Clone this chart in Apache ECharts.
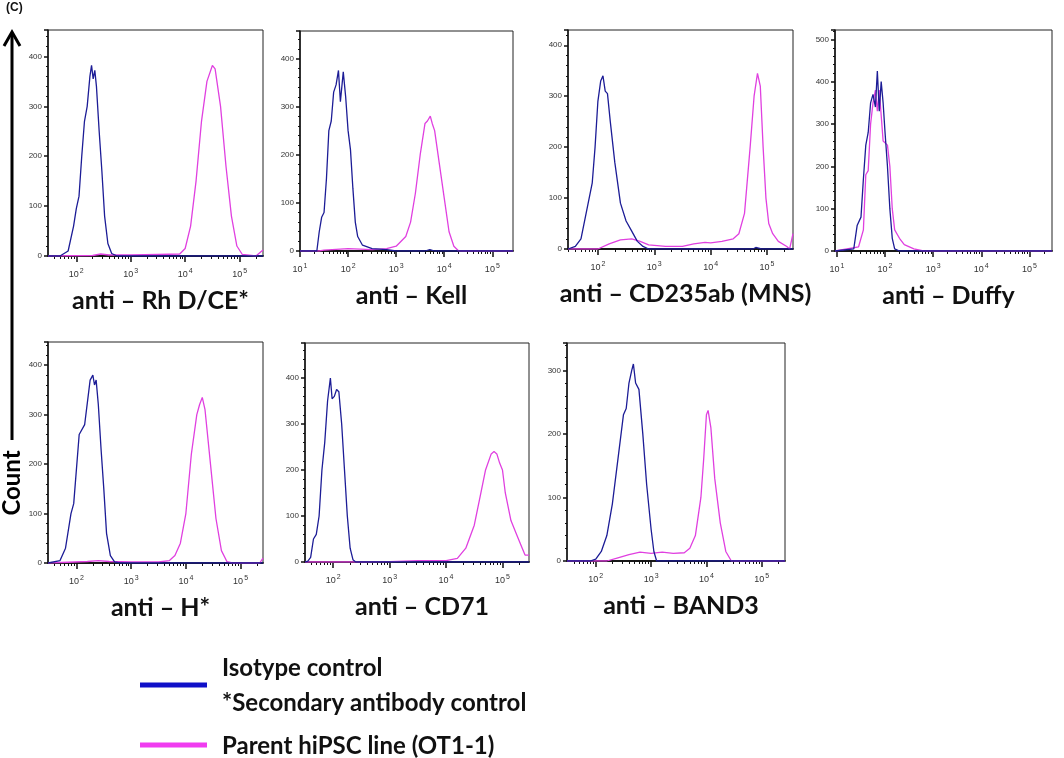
<!DOCTYPE html>
<html>
<head>
<meta charset="UTF-8">
<title>Flow cytometry histograms</title>
<script src="https://cdn.jsdelivr.net/npm/echarts@6/dist/echarts.min.js"></script>
<style>body{margin:0;background:#fff}</style>
</head>
<body>
<div id="main" style="width:1064px;height:758px;"></div>
<script>
// x values are log10 of fluorescence, y is count
var rhBlue = [[1.48,0],[1.7,0],[1.85,10],[1.95,60],[2.0,95],[2.05,120],[2.1,200],[2.15,270],[2.2,300],[2.25,360],[2.28,382],[2.31,355],[2.34,372],[2.37,340],[2.42,250],[2.47,170],[2.52,80],[2.58,25],[2.65,5],[2.75,0],[5.43,0]];
var rhPink = [[1.48,0],[2.3,1],[2.45,4],[2.6,2],[3.0,2],[3.5,3],[3.9,4],[4.0,15],[4.1,60],[4.2,150],[4.3,270],[4.4,350],[4.5,382],[4.55,375],[4.65,300],[4.75,180],[4.85,80],[4.95,20],[5.05,3],[5.3,0],[5.43,12]];
var kellBlue = [[1.0,0],[1.35,0],[1.4,40],[1.45,70],[1.5,80],[1.55,150],[1.6,250],[1.65,270],[1.7,330],[1.75,345],[1.8,375],[1.84,310],[1.9,372],[1.95,320],[2.0,250],[2.05,210],[2.1,130],[2.15,60],[2.2,30],[2.3,12],[2.5,5],[2.8,3],[3.0,0],[3.6,0],[3.7,3],[3.8,0],[5.43,0]];
var kellPink = [[1.0,0],[1.4,0],[1.5,2],[2.0,5],[2.5,3],[2.8,5],[3.0,10],[3.2,30],[3.3,60],[3.4,120],[3.5,200],[3.6,265],[3.65,270],[3.71,280],[3.75,265],[3.8,250],[3.9,180],[4.0,110],[4.1,40],[4.2,10],[4.3,0],[5.43,0]];
var cdBlue = [[1.47,0],[1.6,5],[1.7,20],[1.8,75],[1.9,130],[1.95,200],[2.0,290],[2.05,330],[2.09,340],[2.13,310],[2.17,305],[2.22,250],[2.3,170],[2.4,90],[2.5,55],[2.6,35],[2.7,15],[2.8,5],[2.9,0],[4.75,0],[4.8,3],[4.9,0],[5.46,0]];
var cdPink = [[1.47,0],[2.0,0],[2.2,10],[2.4,18],[2.6,20],[2.75,15],[2.9,8],[3.2,5],[3.5,5],[3.7,10],[3.9,13],[4.0,12],[4.2,15],[4.4,20],[4.5,30],[4.6,70],[4.7,200],[4.77,300],[4.83,345],[4.88,320],[4.93,200],[4.98,100],[5.03,50],[5.1,30],[5.2,15],[5.35,5],[5.4,0],[5.46,30]];
var duffyBlue = [[0.96,0],[1.35,5],[1.42,60],[1.5,80],[1.55,170],[1.6,250],[1.65,280],[1.7,350],[1.75,370],[1.8,340],[1.84,425],[1.88,330],[1.92,400],[1.96,350],[2.0,280],[2.05,200],[2.1,100],[2.15,30],[2.2,5],[2.3,0],[5.47,0]];
var duffyPink = [[0.96,0],[1.45,10],[1.55,50],[1.6,180],[1.65,190],[1.7,300],[1.75,350],[1.8,380],[1.84,330],[1.88,380],[1.92,320],[1.96,260],[2.0,260],[2.05,250],[2.1,200],[2.15,100],[2.2,50],[2.3,30],[2.4,15],[2.6,5],[2.8,0],[5.47,0]];
var hBlue = [[1.48,0],[1.7,5],[1.8,30],[1.9,100],[1.95,120],[2.05,260],[2.15,280],[2.25,370],[2.3,380],[2.33,360],[2.36,370],[2.4,320],[2.45,230],[2.5,150],[2.55,60],[2.62,15],[2.7,2],[2.8,0],[5.41,0]];
var hPink = [[1.48,0],[2.2,3],[2.4,5],[2.6,3],[3.0,2],[3.5,2],[3.7,5],[3.8,15],[3.9,40],[4.0,100],[4.1,220],[4.2,300],[4.25,320],[4.3,335],[4.35,310],[4.45,200],[4.55,90],[4.65,25],[4.75,3],[4.85,0],[5.35,0],[5.41,10]];
var cd71Blue = [[1.5,0],[1.55,2],[1.6,10],[1.65,50],[1.7,60],[1.75,100],[1.8,200],[1.85,260],[1.9,350],[1.95,400],[1.98,355],[2.02,360],[2.06,375],[2.1,370],[2.15,300],[2.2,200],[2.25,100],[2.3,30],[2.35,5],[2.4,0],[5.47,0]];
var cd71Pink = [[1.5,0],[2.5,0],[3.0,1],[3.5,3],[3.8,3],[4.0,3],[4.2,8],[4.35,30],[4.5,80],[4.6,140],[4.7,200],[4.8,235],[4.85,240],[4.9,235],[4.95,215],[5.0,200],[5.05,150],[5.15,90],[5.25,60],[5.35,30],[5.4,15],[5.47,15]];
var band3Blue = [[1.48,0],[1.9,0],[2.0,3],[2.1,15],[2.2,40],[2.3,90],[2.4,160],[2.5,230],[2.55,240],[2.6,280],[2.65,300],[2.68,310],[2.72,280],[2.78,270],[2.85,200],[2.92,120],[3.0,50],[3.05,15],[3.1,0],[5.42,0]];
var band3Pink = [[1.48,0],[2.2,0],[2.4,5],[2.6,10],[2.8,14],[3.0,12],[3.2,14],[3.4,12],[3.6,13],[3.7,20],[3.8,40],[3.9,100],[3.95,160],[4.0,230],[4.03,237],[4.08,210],[4.15,130],[4.25,60],[4.35,15],[4.45,0],[5.42,0]];

var titles = ['anti \u2013 Rh D/CE*', 'anti \u2013 Kell', 'anti \u2013 CD235ab (MNS)', 'anti \u2013 Duffy', 'anti \u2013 H*', 'anti \u2013 CD71', 'anti \u2013 BAND3'];
var xMin = [1.48, 1.0, 1.47, 0.96, 1.48, 1.5, 1.48];
var xMax = [5.43, 5.43, 5.46, 5.47, 5.41, 5.47, 5.42];
var yMax = [453, 457, 430, 522, 447, 476, 343];
var blues = [rhBlue, kellBlue, cdBlue, duffyBlue, hBlue, cd71Blue, band3Blue];
var pinks = [rhPink, kellPink, cdPink, duffyPink, hPink, cd71Pink, band3Pink];
var decadeLabels = [[2,3,4,5],[1,2,3,4,5],[2,3,4,5],[1,2,3,4,5],[2,3,4,5],[2,3,4,5],[2,3,4,5]];

// panel boxes [left, top, width, height]
var boxes = [[48,30,215,226],[300,31,213,220],[568,30,225,219],[835,30,217,221],
             [48,342,215,221],[305,343,224,219],[567,343,218,218]];

var minorTicks = [];
for (var d = 0; d <= 5; d++) {
    for (var k = 2; k <= 9; k++) minorTicks.push(d + Math.log10(k));
}

var grids = [], xAxes = [], yAxes = [], series = [], titleList = [];
boxes.forEach(function (b, i) {
    var minors = minorTicks.filter(function (t) { return t > xMin[i] && t < xMax[i]; });
    grids.push({left: b[0], top: b[1], width: b[2], height: b[3], show: true,
                borderColor: '#222', borderWidth: 1, backgroundColor: '#fff'});
    xAxes.push({
        type: 'value', gridIndex: i, min: xMin[i], max: xMax[i], position: 'bottom', offset: 0,
        splitLine: {show: false},
        axisLine: {lineStyle: {color: '#111', width: 1.5}},
        axisTick: {customValues: decadeLabels[i], length: 6, lineStyle: {color: '#111', width: 1.5}},
        axisLabel: {
            customValues: decadeLabels[i], margin: 12,
            formatter: function (v) { return '{b|10}{s|' + Math.round(v) + '}'; },
            rich: {b: {fontSize: 9, color: '#333', fontFamily: 'Arial'},
                   s: {fontSize: 7, color: '#333', verticalAlign: 'top', padding: [0,0,6,1], fontFamily: 'Arial'}}
        }
    });
    xAxes.push({
        type: 'value', gridIndex: i, min: xMin[i], max: xMax[i], position: 'bottom', offset: 0,
        splitLine: {show: false},
        axisLine: {show: true, lineStyle: {color: '#111', width: 1.5}},
        axisLabel: {show: true, customValues: minors, formatter: function () { return ''; }},
        axisTick: {show: true, customValues: minors, length: 3, lineStyle: {color: '#111'}}
    });
    yAxes.push({
        type: 'value', gridIndex: i, min: 0, max: yMax[i], interval: 100,
        splitLine: {show: false},
        axisLine: {show: true, lineStyle: {color: '#111', width: 1.5}},
        axisTick: {show: true, length: 4, lineStyle: {color: '#111', width: 1.5}},
        minorTick: {show: true, splitNumber: 5, length: 2, lineStyle: {color: '#111'}},
        axisLabel: {fontSize: 8, color: '#333', fontFamily: 'Arial', showMaxLabel: false, margin: 6}
    });
    series.push({type: 'line', xAxisIndex: 2 * i, yAxisIndex: i, data: pinks[i], showSymbol: false,
                 lineStyle: {color: '#e040e0', width: 1.3}, z: 2});
    series.push({type: 'line', xAxisIndex: 2 * i, yAxisIndex: i, data: blues[i], showSymbol: false,
                 lineStyle: {color: '#1c1c96', width: 1.3}, z: 3});
    titleList.push({text: titles[i], left: b[0] + b[2] / 2, top: b[1] + b[3] + 27, textAlign: 'center',
                    textStyle: {fontFamily: 'Lato', fontWeight: 'bold', fontSize: 25, color: '#111'}});
});

var legendFont = 'bold 24px Lato';
var myChart = echarts.init(document.getElementById('main'));
myChart.setOption({
    animation: false,
    backgroundColor: '#fff',
    title: titleList,
    grid: grids,
    xAxis: xAxes,
    yAxis: yAxes,
    series: series,
    graphic: [
        {type: 'text', left: 6, top: 2, style: {text: '(C)', font: 'bold 12px Arial', fill: '#111'}},
        {type: 'line', shape: {x1: 12, y1: 34, x2: 12, y2: 440}, style: {stroke: '#000', lineWidth: 3}},
        {type: 'polyline', shape: {points: [[4, 46], [12, 32], [20, 46]]}, style: {stroke: '#000', lineWidth: 3, fill: null}},
        {type: 'text', x: 12, y: 483, rotation: Math.PI / 2, style: {text: 'Count', font: legendFont, fill: '#000', align: 'center', verticalAlign: 'middle'}},
        {type: 'line', shape: {x1: 140, y1: 685, x2: 207, y2: 685}, style: {stroke: '#1010c8', lineWidth: 5}},
        {type: 'line', shape: {x1: 140, y1: 745, x2: 207, y2: 745}, style: {stroke: '#f03cf0', lineWidth: 5}},
        {type: 'text', x: 222, y: 668, style: {text: 'Isotype control', font: legendFont, fill: '#111', verticalAlign: 'middle'}},
        {type: 'text', x: 222, y: 703, style: {text: '*Secondary antibody control', font: legendFont, fill: '#111', verticalAlign: 'middle'}},
        {type: 'text', x: 222, y: 746, style: {text: 'Parent hiPSC line (OT1-1)', font: legendFont, fill: '#111', verticalAlign: 'middle'}}
    ]
});
</script>
</body>
</html>
